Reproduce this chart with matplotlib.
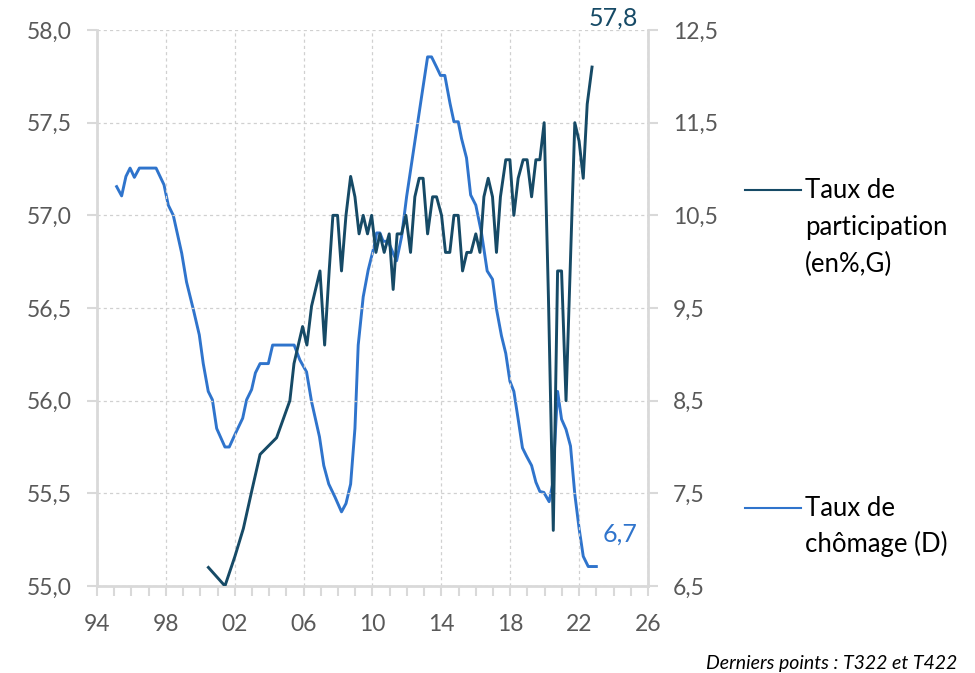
import matplotlib
matplotlib.use("Agg")
import matplotlib.pyplot as plt
from matplotlib.ticker import FuncFormatter, FixedLocator, MultipleLocator
from matplotlib.lines import Line2D

plt.rcParams['font.family'] = ['Lato', 'DejaVu Sans']

# Taux de participation (en %, axe gauche)
part_years = [2000.47, 2001.43, 2002.01, 2002.50, 2002.98, 2003.47, 2004.43, 2005.20, 2005.44, 2005.94,
              2006.19, 2006.46, 2006.95, 2007.22, 2007.49, 2007.70, 2007.97, 2008.20, 2008.46, 2008.73,
              2008.98, 2009.22, 2009.46, 2009.71, 2009.95, 2010.20, 2010.43, 2010.68, 2010.97, 2011.20,
              2011.43, 2011.69, 2011.94, 2012.21, 2012.46, 2012.71, 2012.94, 2013.20, 2013.49, 2013.72,
              2014.01, 2014.24, 2014.49, 2014.73, 2014.98, 2015.23, 2015.48, 2015.72, 2016.00, 2016.24,
              2016.47, 2016.72, 2016.97, 2017.20, 2017.43, 2017.74, 2017.98, 2018.21, 2018.46, 2018.75,
              2018.98, 2019.24, 2019.49, 2019.72, 2019.97, 2020.22, 2020.50, 2020.75, 2020.98, 2021.24,
              2021.75, 2022.00, 2022.24, 2022.47, 2022.75]
part_vals = [55.10, 55.00, 55.16, 55.31, 55.51, 55.71, 55.80, 56.00, 56.20, 56.40,
             56.30, 56.51, 56.70, 56.30, 56.71, 57.00, 57.00, 56.70, 57.00, 57.21,
             57.10, 56.90, 57.00, 56.90, 57.00, 56.80, 56.90, 56.80, 56.90, 56.60,
             56.90, 56.90, 57.00, 56.80, 57.10, 57.20, 57.20, 56.90, 57.10, 57.10,
             57.00, 56.80, 56.80, 57.00, 57.00, 56.70, 56.80, 56.80, 56.90, 56.80,
             57.10, 57.20, 57.10, 56.80, 57.10, 57.30, 57.30, 57.00, 57.20, 57.30,
             57.30, 57.10, 57.30, 57.30, 57.50, 56.55, 55.30, 56.70, 56.70, 56.00,
             57.50, 57.40, 57.20, 57.60, 57.80]

# Taux de chômage (axe droit)
chom_years = [1995.14, 1995.43, 1995.68, 1995.92, 1996.17, 1996.46, 1997.43, 1997.89, 1998.14, 1998.43,
              1998.92, 1999.20, 1999.60, 1999.94, 2000.17, 2000.46, 2000.70, 2000.95, 2001.43, 2001.68,
              2002.10, 2002.46, 2002.69, 2002.98, 2003.20, 2003.47, 2003.95, 2004.20, 2005.45, 2005.78,
              2006.17, 2006.46, 2006.92, 2007.17, 2007.46, 2007.82, 2008.20, 2008.46, 2008.73, 2008.98,
              2009.17, 2009.46, 2009.75, 2010.14, 2010.24, 2010.43, 2010.62, 2010.91, 2011.20, 2011.40,
              2011.69, 2011.98, 2012.27, 2012.56, 2012.85, 2013.20, 2013.43, 2013.72, 2013.95, 2014.20,
              2014.50, 2014.73, 2014.98, 2015.17, 2015.46, 2015.70, 2016.00, 2016.33, 2016.66, 2016.97,
              2017.20, 2017.49, 2017.74, 2017.98, 2018.21, 2018.46, 2018.71, 2018.95, 2019.24, 2019.49,
              2019.72, 2019.95, 2020.26, 2020.46, 2020.75, 2020.98, 2021.24, 2021.50, 2021.75, 2022.00,
              2022.24, 2022.53, 2023.00]
chom_vals = [10.81, 10.71, 10.92, 11.01, 10.91, 11.01, 11.01, 10.83, 10.61, 10.50,
             10.09, 9.78, 9.48, 9.21, 8.90, 8.60, 8.51, 8.20, 8.00, 8.00,
             8.17, 8.31, 8.51, 8.62, 8.80, 8.90, 8.90, 9.10, 9.10, 8.94,
             8.81, 8.49, 8.11, 7.80, 7.60, 7.46, 7.30, 7.39, 7.60, 8.20,
             9.10, 9.62, 9.91, 10.20, 10.31, 10.31, 10.22, 10.22, 10.09, 10.01,
             10.27, 10.70, 11.06, 11.42, 11.78, 12.21, 12.21, 12.10, 12.01, 12.01,
             11.71, 11.51, 11.51, 11.33, 11.12, 10.72, 10.61, 10.31, 9.90, 9.81,
             9.49, 9.20, 9.01, 8.71, 8.60, 8.30, 7.99, 7.90, 7.80, 7.62,
             7.52, 7.51, 7.41, 7.60, 8.60, 8.30, 8.19, 8.01, 7.49, 7.12,
             6.82, 6.71, 6.71]

x_ticks = list(range(1994, 2027, 4))
left_ticks = [55.0, 55.5, 56.0, 56.5, 57.0, 57.5, 58.0]
right_ticks = [6.5, 7.5, 8.5, 9.5, 10.5, 11.5, 12.5]

c_part = '#164a66'
c_chom = '#2f74cc'
c_axis = '#d9d9d9'
c_lab = '#595959'

fig = plt.figure(figsize=(9.75, 6.73), dpi=100)
ax = fig.add_axes([0.0995, 0.1293, 0.5651, 0.8261])
ax2 = ax.twinx()

ax.plot(part_years, part_vals, color=c_part, lw=2.1, zorder=3)
ax2.plot(chom_years, chom_vals, color=c_chom, lw=2.1)
ax.set_zorder(ax2.get_zorder() + 1)
ax.patch.set_visible(False)

ax.set_xlim(1994, 2026)
ax.set_ylim(55.0, 58.0)
ax2.set_ylim(6.5, 12.5)

ax.xaxis.set_major_locator(FixedLocator(x_ticks))
ax.xaxis.set_minor_locator(MultipleLocator(1))
ax.yaxis.set_major_locator(FixedLocator(left_ticks))
ax2.yaxis.set_major_locator(FixedLocator(right_ticks))

fmt_comma = FuncFormatter(lambda v, p: f"{v:.1f}".replace('.', ','))
ax.yaxis.set_major_formatter(fmt_comma)
ax2.yaxis.set_major_formatter(fmt_comma)
ax.xaxis.set_major_formatter(FuncFormatter(lambda v, p: f"{int(round(v)) % 100:02d}"))

# grille pointillée
ax.grid(True, which='major', color='#d0d0d0', linestyle=(0, (2.5, 2.5)), linewidth=0.9)

for a in (ax, ax2):
    for s in a.spines.values():
        s.set_visible(False)
ax.spines['left'].set_visible(True)
ax.spines['bottom'].set_visible(True)
ax2.spines['right'].set_visible(True)
for s in (ax.spines['left'], ax.spines['bottom'], ax2.spines['right']):
    s.set_color(c_axis)
    s.set_linewidth(2)

ax.tick_params(axis='y', length=7, width=1.5, color=c_axis, labelcolor=c_lab, labelsize=16.5, pad=11)
ax2.tick_params(axis='y', length=7, width=1.5, color=c_axis, labelcolor=c_lab, labelsize=16.5, pad=11)
ax.tick_params(axis='x', which='major', length=7, width=1.5, color=c_axis, labelcolor=c_lab,
               labelsize=16.5, pad=13)
ax.tick_params(axis='x', which='minor', length=7, width=1.5, color=c_axis)

# dernières valeurs
ax.annotate("57,8", (part_years[-1], part_vals[-1]), xytext=(15, 35), textcoords='offset points',
            color=c_part, fontsize=18, ha='center', va='center', annotation_clip=False)
ax2.annotate("6,7", (chom_years[-1], chom_vals[-1]), xytext=(17, 23), textcoords='offset points',
             color=c_chom, fontsize=18, ha='center', va='center', annotation_clip=False)

# légende à droite
fig.add_artist(Line2D([745 / 975, 801 / 975], [1 - 190 / 673, 1 - 190 / 673], color=c_part, lw=1.5))
fig.add_artist(Line2D([745 / 975, 801 / 975], [1 - 508 / 673, 1 - 508 / 673], color=c_chom, lw=1.5))
for i, t in enumerate(["Taux de", "participation", "(en%,G)"]):
    fig.text(805 / 975, 1 - (190 + 37 * i) / 673, t, fontsize=18.5, color='black', va='center', ha='left')
for i, t in enumerate(["Taux de", "chômage (D)"]):
    fig.text(805 / 975, 1 - (508 + 36 * i) / 673, t, fontsize=18.5, color='black', va='center', ha='left')

fig.text(957 / 975, 1 - 663 / 673, "Derniers points : T322 et T422", fontsize=14, style='italic',
         color='black', ha='right', va='center')

fig.savefig("out.png", dpi=100)
